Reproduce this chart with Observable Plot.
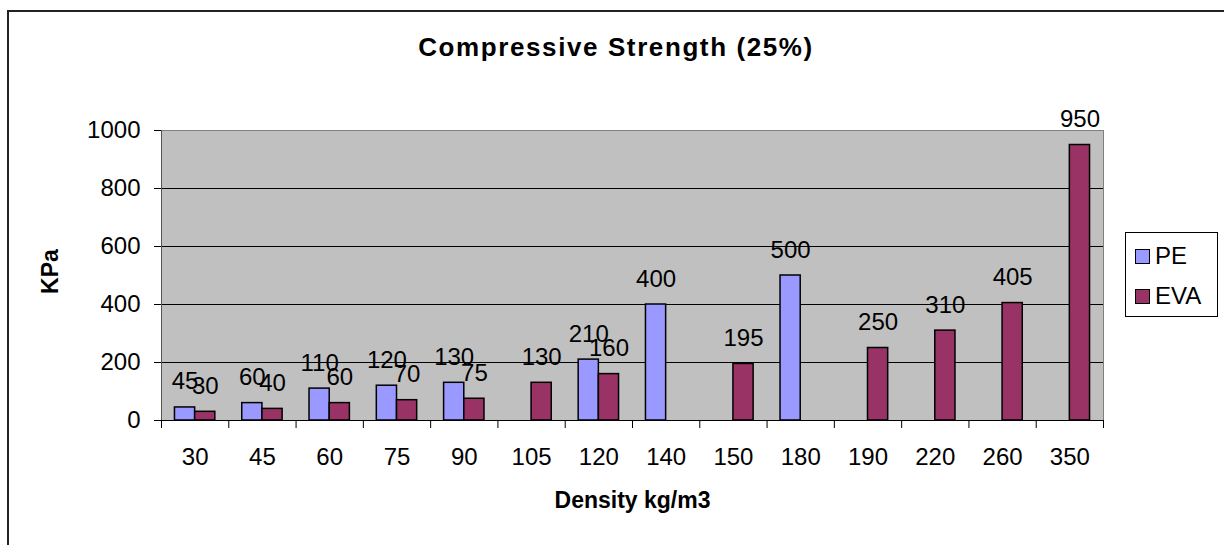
<!DOCTYPE html>
<html>
<head>
<meta charset="utf-8">
<script src="https://cdn.jsdelivr.net/npm/d3@7"></script>
<script src="https://cdn.jsdelivr.net/npm/@observablehq/plot@0.6"></script>
<style>
  body { margin: 0; background: #fff; font-family: "Liberation Sans", Arial, sans-serif; }
  #wrap { position: relative; width: 1224px; height: 545px; overflow: hidden; }
  #border { position: absolute; left: 7px; top: 10px; width: 1400px; height: 800px;
            border-left: 2px solid #222; border-top: 2px solid #222; }
  #title { position: absolute; left: 216px; width: 800px; top: 32px; text-align: center;
           font-weight: bold; font-size: 26px; line-height: 30px; letter-spacing: 1.6px; }
  #chart { position: absolute; left: 0; top: 0; }
  #legend { position: absolute; left: 1125px; top: 232px; width: 93px; height: 85px;
            border: 1px solid #000; background: #fff; box-sizing: border-box; }
  .item { position: absolute; left: 9px; display: flex; align-items: center; font-size: 24px; }
  .sw { width: 15px; height: 15px; border: 1.5px solid #000; box-sizing: border-box; margin-right: 5px; }
</style>
</head>
<body>
<div id="wrap">
  <div id="border"></div>
  <div id="title">Compressive Strength (25%)</div>
  <div id="chart"></div>
  <div id="legend"></div>
</div>
<script>
// Density categories (kg/m3) and compressive strength at 25% (KPa)
const categories = ["30", "45", "60", "75", "90", "105", "120", "140", "150", "180", "190", "220", "260", "350"];
const pe  = [45, 60, 110, 120, 130, null, 210, 400, null, 500, null, null, null, null];
const eva = [30, 40, 60, 70, 75, 130, 160, null, 195, null, 250, 310, 405, 950];
const series = ["PE", "EVA"];
const colors = ["#9999FF", "#993366"];
const yTicks = [0, 200, 400, 600, 800, 1000];

// long table: one row per (category, series) with a value
const rows = [];
categories.forEach((c, i) => {
  if (pe[i] != null) rows.push({i, density: c, series: "PE", value: pe[i]});
  if (eva[i] != null) rows.push({i, density: c, series: "EVA", value: eva[i]});
});

// each bar takes 0.3 of a category slot, PE to the left of centre, EVA to the right
const half = 0.3;
const x1 = d => d.series === "PE" ? d.i - half : d.i;
const x2 = d => d.series === "PE" ? d.i : d.i + half;
const xc = d => (x1(d) + x2(d)) / 2;

const chart = Plot.plot({
  width: 1224,
  height: 545,
  marginLeft: 161,
  marginRight: 121,
  marginTop: 130,
  marginBottom: 125,
  style: {fontFamily: "'Liberation Sans', Arial, sans-serif", background: "transparent", overflow: "visible"},
  x: {type: "linear", domain: [-0.5, categories.length - 0.5], axis: null},
  y: {domain: [0, 1000], axis: null},
  color: {domain: series, range: colors},
  marks: [
    Plot.frame({fill: "#C0C0C0", stroke: "#808080"}),
    Plot.ruleY(yTicks.filter(v => v > 0 && v < 1000), {stroke: "#000"}),
    Plot.rectY(rows, {x1, x2, y: "value", fill: "series", stroke: "#000", strokeWidth: 1.5}),
    Plot.text(rows, {x: xc, y: "value", text: d => String(d.value), lineAnchor: "bottom", dy: -18,
                     fontSize: 24, fill: "#000"}),
    Plot.ruleX([-0.5], {stroke: "#555"}),
    Plot.ruleY([0], {stroke: "#000"}),
    Plot.axisY(yTicks, {tickSize: 7, tickPadding: 14, fontSize: 24, label: null, stroke: "#000",
                        tickFormat: d => String(d)}),
    Plot.axisX(d3.range(categories.length + 1).map(i => i - 0.5),
               {tickSize: 8, tickFormat: () => "", label: null, stroke: "#000"}),
    Plot.axisX(d3.range(categories.length),
               {tickSize: 0, tickPadding: 27, tickFormat: i => categories[i], fontSize: 24, label: null}),
    Plot.text(["KPa"], {frameAnchor: "left", dx: -111, dy: -4, rotate: -90, fontWeight: "bold", fontSize: 23,
                        textAnchor: "middle", lineAnchor: "middle"}),
    Plot.text(["Density kg/m3"], {frameAnchor: "bottom", dy: 80, fontWeight: "bold", fontSize: 23,
                                  textAnchor: "middle", lineAnchor: "middle", letterSpacing: "1px"})
  ]
});
document.getElementById("chart").append(chart);

// legend
const legend = document.getElementById("legend");
series.forEach((s, k) => {
  const item = document.createElement("div");
  item.className = "item";
  item.style.top = (k === 0 ? 9 : 49) + "px";
  const sw = document.createElement("div");
  sw.className = "sw";
  sw.style.background = colors[k];
  const label = document.createElement("span");
  label.textContent = s;
  item.append(sw, label);
  legend.append(item);
});
</script>
</body>
</html>
